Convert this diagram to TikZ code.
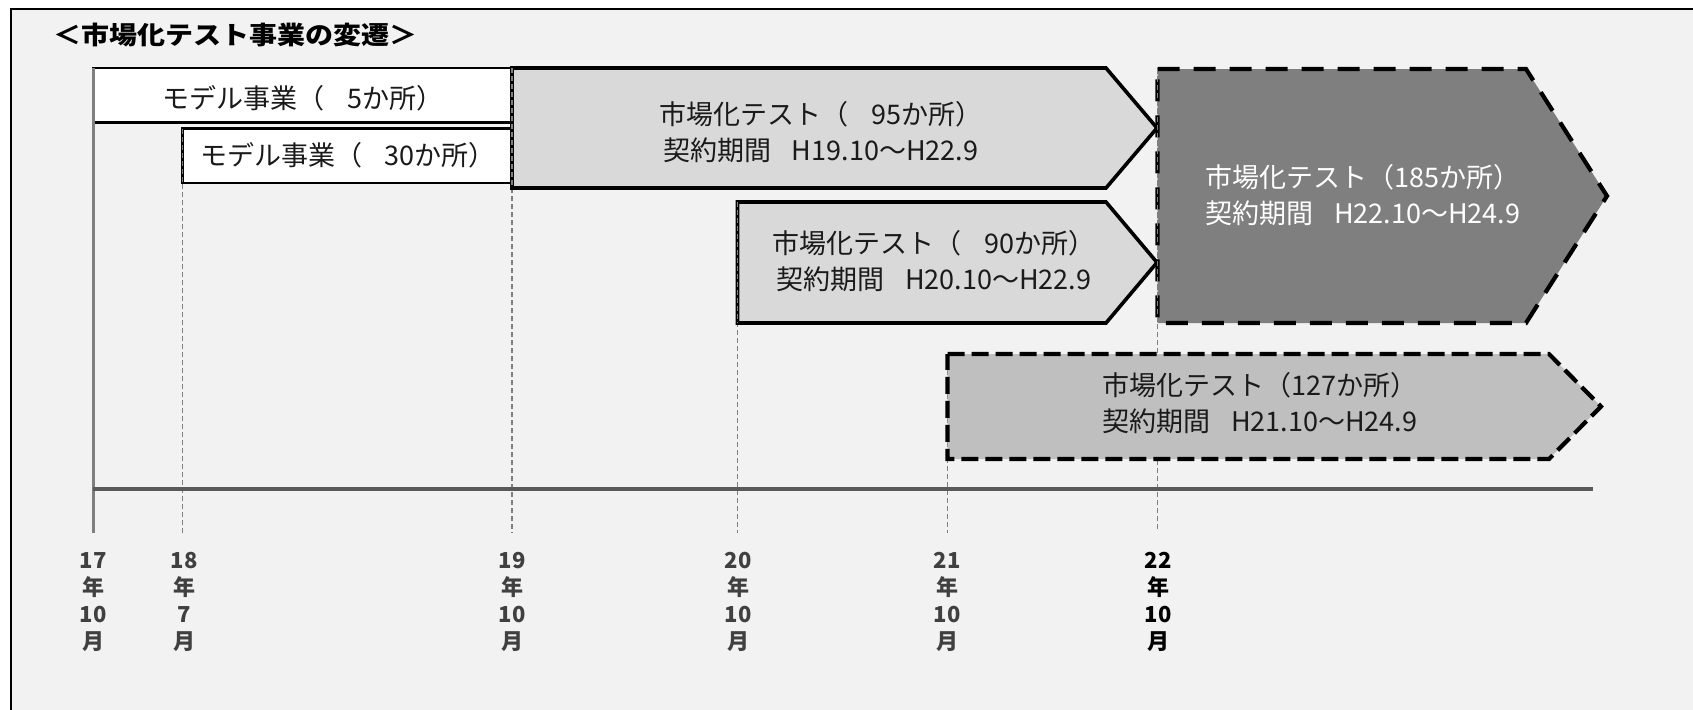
\documentclass[tikz,border=0pt]{standalone}
\usepackage{fontspec}
\newfontfamily\jp{Noto Sans CJK JP}
\definecolor{bgc}{HTML}{F2F2F2}
\definecolor{lg}{HTML}{D9D9D9}
\definecolor{mg}{HTML}{BFBFBF}
\definecolor{dg}{HTML}{7F7F7F}
\definecolor{guidec}{HTML}{7F7F7F}
\definecolor{axisv}{HTML}{7F7F7F}
\definecolor{axish}{HTML}{595959}
\definecolor{lblc}{HTML}{404040}
\definecolor{txtc}{HTML}{1A1A1A}
\newcommand{\gapA}{\hspace{0.85em}}
\newcommand{\gapB}{\hspace{0.75em}}
\tikzset{
  framebox/.style={draw=black, line width=2.5pt},
  whitebox/.style={draw=black, line width=2.6pt, fill=white},
  lightarrow/.style={draw=black, line width=3.6pt, fill=lg, line join=miter},
  darkarrow/.style={draw=black, line width=4.2pt, fill=dg, line join=miter, dash pattern=on 22pt off 14pt},
  midarrow/.style={draw=black, line width=4.2pt, fill=mg, line join=miter, dash pattern=on 17pt off 7pt},
  guide/.style={draw=guidec, line width=1.3pt, dash pattern=on 5pt off 3pt},
  boxtext/.style={font=\jp\fontsize{27}{36}\selectfont, align=center, inner sep=0pt, text=txtc},
  onetext/.style={font=\jp\fontsize{27}{30}\selectfont, inner sep=0pt, text=txtc},
  ticklabel/.style={font=\jp\bfseries\fontsize{22}{26.8}\selectfont, align=center, inner sep=0pt, text=lblc},
  titletext/.style={font=\jp\bfseries\fontsize{25}{28}\selectfont, inner sep=0pt, text=black},
}
\begin{document}
\begin{tikzpicture}[x=1pt,y=-1pt]
\useasboundingbox (0,0) rectangle (1693,709);
\fill[white] (0,0) rectangle (1693,709);
\fill[bgc] (11,9) rectangle (1700,715);
\draw[framebox] (11,715) -- (11,9) -- (1700,9);

% title
\node[titletext, anchor=west] (title) at (53,35) {\scalebox{1.12}[1]{＜市場化テスト事業の変遷＞}};

% guide coordinates
\coordinate (g18a) at (182.5,128); \coordinate (g18b) at (182.5,533);
\coordinate (g19a) at (512,68);    \coordinate (g19b) at (512,533);
\coordinate (g20a) at (737.5,202); \coordinate (g20b) at (737.5,533);
\coordinate (g21a) at (947.5,354); \coordinate (g21b) at (947.5,533);
\coordinate (g22a) at (1157.5,68); \coordinate (g22b) at (1157.5,531);

\draw[guide] (g18a) -- (g18b);
\draw[guide] (g19a) -- (g19b);
\draw[guide] (g20a) -- (g20b);
\draw[guide] (g21a) -- (g21b);
\draw[guide] (g22a) -- (g22b);

% boxes
\draw[whitebox] (93,68) rectangle (512,122.5);
\draw[whitebox] (182.5,128.5) rectangle (512,183);
\draw[lightarrow] (512,68) -- (1106,68) -- (1157,128) -- (1106,188) -- (512,188) -- cycle;
\draw[lightarrow] (737.5,202) -- (1106,202) -- (1157,262.5) -- (1106,323) -- (737.5,323) -- cycle;
\draw[midarrow] (947.5,354) -- (1549,354) -- (1601,406.5) -- (1549,459) -- (947.5,459) -- cycle;
\draw[darkarrow] (1157.5,69) -- (1526,69) -- (1607,196) -- (1526,323) -- (1157.5,323) -- cycle;

% axes
\coordinate (ax0) at (93,68); \coordinate (ax1) at (93,533);
\coordinate (ah0) at (93,489); \coordinate (ah1) at (1593,489);
\draw[axisv, line width=3pt] (ax0) -- (ax1);
\draw[axish, line width=3.6pt] (ah0) -- (ah1);

% guide overlays on left edges
\draw[guide] (182.5,128.5) -- (182.5,183);
\draw[guide] (512,68) -- (512,188);
\draw[guide] (737.5,202) -- (737.5,323);
\draw[guide] (1157.5,69) -- (1157.5,323);

% texts
\node[onetext] (t1) at (303,98) {モデル事業（\gapA 5か所）};
\node[onetext] (t2) at (348,155) {モデル事業（\gapA 30か所）};
\node[boxtext] (t3) at (821,132) {市場化テスト（\gapA 95か所）\\契約期間\gapB H19.10～H22.9};
\node[boxtext] (t4) at (934,261) {市場化テスト（\gapA 90か所）\\契約期間\gapB H20.10～H22.9};
\node[boxtext, text=white] (t5) at (1363,195) {市場化テスト（185か所）\\契約期間\gapB H22.10～H24.9};
\node[boxtext] (t6) at (1260,403) {市場化テスト（127か所）\\契約期間\gapB H21.10～H24.9};

% tick labels
\node[ticklabel] (l17) at (93,602) {17\\年\\10\\月};
\node[ticklabel] (l18) at (184,602) {18\\年\\7\\月};
\node[ticklabel] (l19) at (512,602) {19\\年\\10\\月};
\node[ticklabel] (l20) at (738,602) {20\\年\\10\\月};
\node[ticklabel] (l21) at (947,602) {21\\年\\10\\月};
\node[ticklabel, text=black] (l22) at (1158,602) {22\\年\\10\\月};
\end{tikzpicture}
\end{document}
